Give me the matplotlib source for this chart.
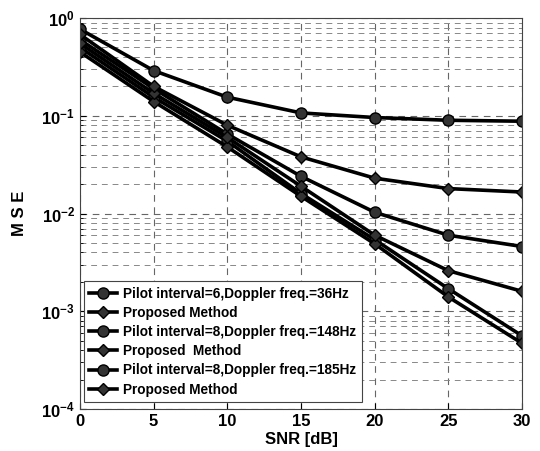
import matplotlib.pyplot as plt
import numpy as np

# SNR values and MSE curves
snr = [0, 5, 10, 15, 20, 25, 30]

pilot6_36hz = [0.50, 0.155, 0.055, 0.016, 0.0054, 0.0017, 0.00056]
proposed_36hz = [0.45, 0.14, 0.048, 0.015, 0.0049, 0.0014, 0.00047]
pilot8_148hz = [0.60, 0.19, 0.065, 0.024, 0.0103, 0.0060, 0.0046]
proposed_148hz = [0.55, 0.17, 0.060, 0.019, 0.0060, 0.0026, 0.0016]
pilot8_185hz = [0.77, 0.29, 0.155, 0.107, 0.096, 0.090, 0.088]
proposed_185hz = [0.68, 0.20, 0.080, 0.038, 0.023, 0.018, 0.0166]

labels = ['Pilot interval=6,Doppler freq.=36Hz',
          'Proposed Method',
          'Pilot interval=8,Doppler freq.=148Hz',
          'Proposed  Method',
          'Pilot interval=8,Doppler freq.=185Hz',
          'Proposed Method']

plt.rcParams['font.family'] = ['Liberation Sans', 'DejaVu Sans']
plt.rcParams['font.weight'] = 'bold'

fig = plt.figure(figsize=(5.4, 4.51), dpi=100)
ax = fig.add_axes([0.148, 0.093, 0.819, 0.867])

series = [pilot6_36hz, proposed_36hz, pilot8_148hz, proposed_148hz,
          pilot8_185hz, proposed_185hz]
markers = ['o', 'D', 'o', 'D', 'o', 'D']
for ys, m, lab in zip(series, markers, labels):
    ax.semilogy(snr, ys, color='black', linewidth=2.6, marker=m,
                markersize=8 if m == 'o' else 6, markerfacecolor='#333333',
                markeredgecolor='black', label=lab)

ax.set_xlim(0, 30)
ax.set_ylim(1e-4, 1)
ax.set_xticks([0, 5, 10, 15, 20, 25, 30])
ax.grid(True, which='major', linestyle=(0, (6, 5)), color='#666666', linewidth=0.8)
ax.grid(True, which='minor', axis='y', linestyle=(0, (6, 5)), color='#888888', linewidth=0.7)
ax.tick_params(axis='both', which='major', labelsize=12, direction='in', length=4)
ax.tick_params(axis='y', which='minor', direction='in', length=2)
for lbl in ax.get_xticklabels() + ax.get_yticklabels():
    lbl.set_fontweight('bold')

ax.set_xlabel('SNR [dB]', fontsize=12, fontweight='bold', labelpad=2)
ax.set_ylabel('M S E', fontsize=12, fontweight='bold', labelpad=10)
for s in ax.spines.values():
    s.set_color('#444444')

leg = ax.legend(loc='lower left', bbox_to_anchor=(0.009, 0.018),
                prop={'weight': 'bold', 'size': 9.8}, frameon=True, fancybox=False,
                edgecolor='#444444', framealpha=1, handlelength=2.0,
                borderpad=0.4, labelspacing=0.38, handletextpad=0.5,
                borderaxespad=0)
leg.get_frame().set_linewidth(0.8)

plt.savefig('out.png', dpi=100)
